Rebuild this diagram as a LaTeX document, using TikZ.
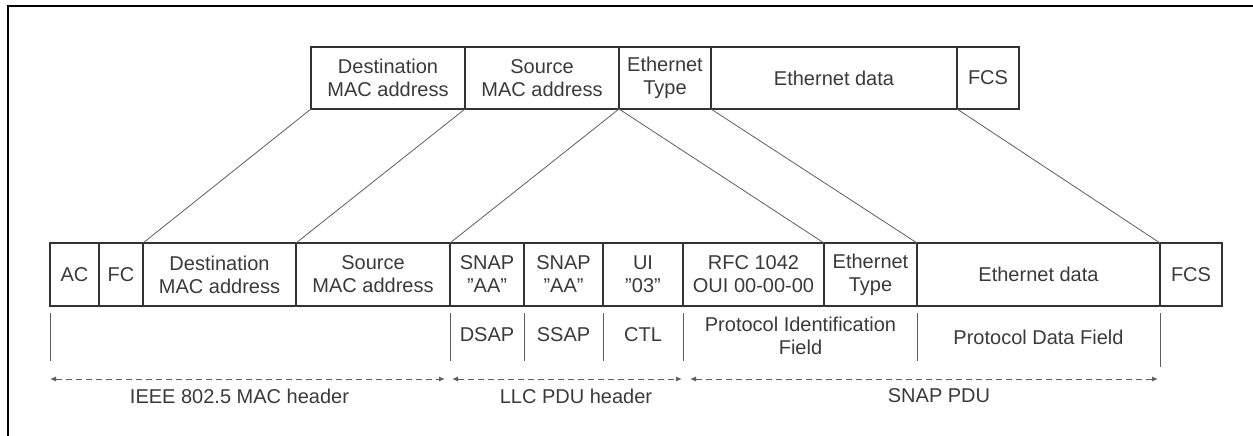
\documentclass[tikz,border=0pt]{standalone}
\usepackage{fontspec}
\setmainfont{Liberation Sans}
\usepackage{xcolor}
\definecolor{cLine}{HTML}{333333}
\definecolor{cText}{HTML}{3A3A3A}
\definecolor{cThin}{HTML}{5E5E5E}
\usepackage{tikz}
\usetikzlibrary{positioning,arrows.meta}
\tikzset{
  field-top/.style={draw=cLine,line width=1.8pt,minimum height=62pt,
    inner sep=0pt,outer sep=0pt,align=center,text=cText},
  field-bot/.style={field-top,minimum height=63pt},
  field-label/.style={align=center,text=cText,inner sep=0pt},
  map-line/.style={draw=cThin,line width=0.8pt},
  tick-line/.style={draw=cThin,line width=0.8pt},
  span-arrow/.style={{Latex[length=6pt,width=5pt]}-{Latex[length=6pt,width=5pt]},
    dash pattern=on 6pt off 4pt,draw=cThin,line width=1pt},
  frame-line/.style={draw=black,line width=2.4pt},
}

\begin{document}
\begin{tikzpicture}[x=1pt,y=-1pt,font=\fontsize{20}{23}\selectfont]
  \useasboundingbox (0,0) rectangle (1253,436);
  \draw[frame-line] (8,436) -- (8,6) -- (1253,6);
  % Ethernet frame
  \node[field-top,minimum width=154pt,anchor=north west] (t-dst) at (311,47) {Destination\\MAC address};
  \node[field-top,minimum width=154pt,right=0pt of t-dst] (t-src) {Source\\MAC address};
  \node[field-top,minimum width=92pt,right=0pt of t-src]  (t-typ) {Ethernet\\Type};
  \node[field-top,minimum width=246pt,right=0pt of t-typ] (t-dat) {Ethernet data};
  \node[field-top,minimum width=62pt,right=0pt of t-dat]  (t-fcs) {FCS};
  % 802.5 frame with LLC/SNAP
  \node[field-bot,minimum width=49pt,anchor=north west] (b-ac) at (50,243) {AC};
  \node[field-bot,minimum width=44pt,right=0pt of b-ac]   (b-fc)  {FC};
  \node[field-bot,minimum width=153pt,right=0pt of b-fc]  (b-dst) {Destination\\MAC address};
  \node[field-bot,minimum width=154pt,right=0pt of b-dst] (b-src) {Source\\MAC address};
  \node[field-bot,minimum width=74pt,right=0pt of b-src]  (b-s1)  {SNAP\\"AA"};
  \node[field-bot,minimum width=79pt,right=0pt of b-s1]   (b-s2)  {SNAP\\"AA"};
  \node[field-bot,minimum width=80pt,right=0pt of b-s2]   (b-ui)  {UI\\"03"};
  \node[field-bot,minimum width=141pt,right=0pt of b-ui]  (b-rfc) {RFC 1042\\OUI 00-00-00};
  \node[field-bot,minimum width=93pt,right=0pt of b-rfc]  (b-typ) {Ethernet\\Type};
  \node[field-bot,minimum width=243pt,right=0pt of b-typ] (b-dat) {Ethernet data};
  \node[field-bot,minimum width=62pt,right=0pt of b-dat]  (b-fcs) {FCS};
  % mapping
  \draw[map-line] (t-dst.south west) -- (b-dst.north west);
  \draw[map-line] (t-src.south west) -- (b-src.north west);
  \draw[map-line] (t-typ.south west) -- (b-s1.north west);
  \draw[map-line] (t-typ.south west) -- (b-typ.north west);
  \draw[map-line] (t-dat.south west) -- (b-dat.north west);
  \draw[map-line] (t-fcs.south west) -- (b-fcs.north west);
  % field names
  \draw[tick-line] ([yshift=-7pt]b-ac.south west)  -- ++(0,-48pt);
  \draw[tick-line] ([yshift=-7pt]b-s1.south west)  -- ++(0,-48pt);
  \draw[tick-line] ([yshift=-7pt]b-s2.south west)  -- ++(0,-48pt);
  \draw[tick-line] ([yshift=-7pt]b-ui.south west)  -- ++(0,-48pt);
  \draw[tick-line] ([yshift=-7pt]b-rfc.south west) -- ++(0,-48pt);
  \draw[tick-line] ([yshift=-7pt]b-dat.south west) -- ++(0,-48pt);
  \draw[tick-line] ([yshift=-7pt]b-fcs.south west) -- ++(0,-54pt);
  \node[field-label] (dsap) at ([yshift=-29pt]b-s1.south) {DSAP};
  \node[field-label] (ssap) at ([yshift=-29pt]b-s2.south) {SSAP};
  \node[field-label] (ctl)  at ([yshift=-29pt]b-ui.south) {CTL};
  \node[field-label] (pid)  at ([yshift=-30pt,xshift=47pt]b-rfc.south) {Protocol Identification\\Field};
  \node[field-label] (pdf)  at ([yshift=-31pt]b-dat.south) {Protocol Data Field};
  % header spans
  \draw[span-arrow] ([yshift=-73pt]b-ac.south west) -- ([yshift=-73pt,xshift=-5pt]b-s1.south west)
    node[field-label,midway,yshift=-17pt,xshift=-8pt] {IEEE 802.5 MAC header};
  \draw[span-arrow] ([yshift=-73pt,xshift=2pt]b-s1.south west) -- ([yshift=-73pt,xshift=-1pt]b-rfc.south west)
    node[field-label,midway,yshift=-17pt,xshift=9pt] {LLC PDU header};
  \draw[span-arrow] ([yshift=-73pt,xshift=7pt]b-rfc.south west) -- ([yshift=-73pt,xshift=-2pt]b-fcs.south west)
    node[field-label,midway,yshift=-17pt,xshift=15pt] {SNAP PDU};
\end{tikzpicture}
\end{document}
